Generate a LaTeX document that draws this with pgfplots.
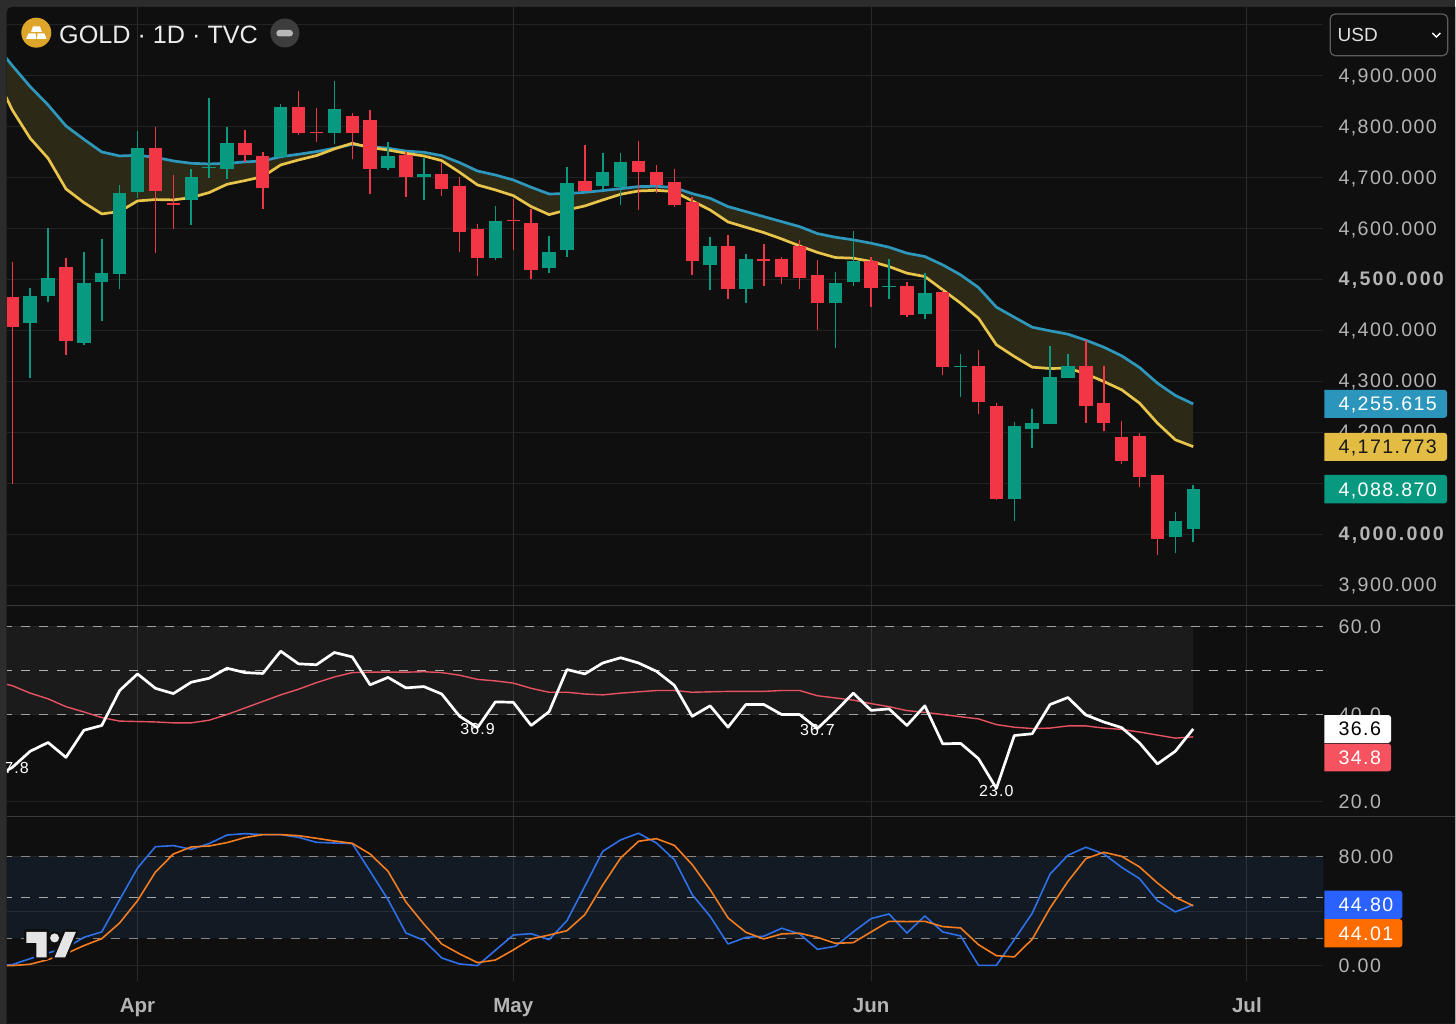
\documentclass[border=0pt]{standalone}
\usepackage{fontspec}
\setmainfont{Liberation Sans}
\newfontfamily\tickff[LetterSpace=7]{Liberation Sans}
\newfontfamily\tickbf[LetterSpace=11.5]{Liberation Sans}
\usepackage{pgfplots}
\usepackage{pgfplotstable}
\pgfplotsset{compat=1.18}
\definecolor{bgc}{HTML}{0F0F0F}
\definecolor{framec}{HTML}{2C2C2C}
\definecolor{gridc}{HTML}{232323}
\definecolor{vgridc}{HTML}{2B2B2B}
\definecolor{sepc}{HTML}{3C3C3C}
\definecolor{tickc}{HTML}{B4B4B4}
\definecolor{upc}{HTML}{089981}
\definecolor{downc}{HTML}{F23645}
\definecolor{ublue}{HTML}{2E97BC}
\definecolor{uyellow}{HTML}{E8C54A}
\definecolor{cloudc}{HTML}{2C2A17}
\definecolor{rsic}{HTML}{E65261}
\definecolor{kc}{HTML}{2F6FE8}
\definecolor{dc}{HTML}{F57C1F}
\definecolor{bandb}{HTML}{3282DC}
\definecolor{tagblue}{HTML}{2B95BB}
\definecolor{taggold}{HTML}{E3BC44}
\definecolor{tagred}{HTML}{F7525F}
\definecolor{tagk}{HTML}{2962FF}
\definecolor{tagd}{HTML}{FF6D00}
\definecolor{goldc}{HTML}{DDA52A}
\newcommand\tickfont{\tickff\fontsize{19.6}{20}\selectfont}
\newcommand\tickfontb{\tickbf\fontsize{19.6}{20}\selectfont\bfseries}
\newcommand\notefont{\tickff\fontsize{16}{17}\selectfont}

\pgfplotstableread{
i high top bot low
1 4483.4 4467.8 4415.4 4305.6
2 4600.5 4503.7 4468.4 4455.3
4 4554.0 4492.6 4376.2 4371.0
5 4580.2 4512.2 4495.9 4418.0
6 4685.5 4669.8 4510.9 4481.5
7 4791.5 4757.5 4671.8 4659.4
10 4716.3 4700.6 4656.8 4606.4
11 4856.2 4721.5 4719.5 4699.3
12 4799.3 4767.3 4716.9 4697.3
15 4845.1 4838.6 4741.1 4740.0
18 4889.6 4835.3 4788.2 4765.3
21 4769.9 4742.4 4718.9 4715.0
23 4737.8 4706.4 4700.5 4656.0
27 4645.0 4615.5 4541.6 4538.3
30 4585.4 4554.0 4522.0 4512.2
31 4721.4 4688.7 4558.0 4544.9
33 4747.6 4711.6 4684.2 4677.6
34 4747.6 4731.3 4682.2 4646.9
39 4582.8 4565.8 4528.5 4479.5
41 4550.0 4540.9 4481.4 4453.3
46 4514.2 4493.9 4454.0 4366.4
47 4595.3 4536.5 4495.9 4488.0
49 4539.7 4486.8 4484.8 4461.9
51 4513.6 4474.3 4432.5 4422.7
53 4352.7 4330.4 4327.8 4268.3
56 4219.3 4211.4 4068.8 4025.0
57 4245.4 4217.3 4206.8 4169.6
58 4368.4 4308.2 4216.7 4216.0
59 4354.0 4330.4 4306.9 4305.6
65 4043.3 4025.7 3993.6 3963.6
66 4095.7 4088.9 4010.0 3983.8
}\upcandles

\pgfplotstableread{
i high top bot low
0 4535.0 4466.0 4406.0 4099.0
3 4543.0 4524.6 4379.5 4351.3
8 4799.3 4757.5 4674.4 4552.8
9 4705.2 4649.6 4647.0 4599.2
13 4793.4 4767.3 4744.4 4730.0
14 4749.6 4742.4 4680.3 4638.4
16 4870.0 4838.6 4788.2 4784.3
17 4836.6 4789.5 4787.6 4769.9
19 4826.1 4820.9 4788.2 4735.9
20 4832.0 4813.0 4716.9 4667.2
22 4750.9 4743.7 4701.9 4662.6
24 4728.0 4707.0 4677.6 4663.9
25 4700.5 4684.2 4593.3 4553.4
26 4609.0 4599.1 4541.6 4507.6
28 4658.0 4617.5 4614.8 4558.0
29 4637.7 4610.9 4518.7 4500.4
32 4764.0 4692.7 4674.4 4673.0
35 4771.8 4733.2 4711.0 4636.4
36 4724.0 4711.6 4684.8 4669.1
37 4716.2 4690.7 4646.9 4643.0
38 4661.3 4652.1 4536.4 4508.9
40 4588.0 4565.8 4481.4 4462.5
42 4569.7 4540.9 4537.0 4487.3
43 4544.2 4540.9 4505.0 4490.6
44 4577.6 4566.4 4503.7 4480.8
45 4538.3 4508.2 4454.0 4401.0
48 4543.7 4536.5 4483.5 4446.9
50 4495.3 4487.4 4430.5 4426.6
52 4479.6 4475.0 4327.2 4311.5
54 4362.5 4330.4 4258.5 4235.6
55 4257.2 4252.0 4068.8 4067.5
60 4381.5 4330.4 4250.7 4218.0
61 4330.4 4257.2 4218.0 4201.6
62 4221.2 4191.2 4142.8 4136.9
63 4198.3 4191.8 4111.4 4091.7
64 4115.3 4115.3 3990.4 3959.6
}\downcandles

\pgfplotstableread{
i upper lower
-1 4963.5 4904.6
0 4919.7 4832.7
1 4878.5 4777.1
2 4842.5 4737.8
3 4801.3 4677.7
4 4775.1 4650.9
5 4750.3 4628.6
6 4742.4 4633.2
7 4743.7 4654.1
8 4739.8 4656.8
9 4732.6 4656.1
10 4728.0 4660.7
11 4726.7 4670.5
12 4728.0 4686.8
13 4730.7 4694.0
14 4732.6 4701.9
15 4741.0 4724.8
16 4745.7 4734.6
17 4751.0 4743.1
18 4757.5 4756.2
19 4765.3 4767.3
20 4760.7 4758.8
21 4757.5 4754.2
22 4752.0 4747.7
23 4749.6 4742.4
24 4743.0 4733.2
25 4729.3 4710.3
26 4712.9 4685.5
27 4705.0 4675.7
28 4695.3 4664.5
29 4680.9 4643.0
30 4667.8 4627.3
31 4668.5 4636.4
32 4671.0 4644.3
33 4674.4 4656.0
34 4678.3 4667.2
35 4682.2 4673.7
36 4682.9 4675.0
37 4680.2 4672.4
38 4668.5 4654.1
39 4659.3 4636.4
40 4643.0 4612.9
41 4633.2 4602.4
42 4623.3 4592.0
43 4613.5 4579.5
44 4603.7 4565.8
45 4590.0 4553.0
46 4582.9 4543.0
47 4577.7 4541.7
48 4571.1 4535.2
49 4563.3 4525.3
50 4551.5 4512.3
51 4545.0 4505.7
52 4528.6 4479.6
53 4509.0 4453.4
54 4484.1 4424.0
55 4445.6 4371.7
56 4425.9 4348.8
57 4406.3 4327.8
58 4399.1 4325.2
59 4392.6 4325.9
60 4380.8 4314.8
61 4367.1 4299.7
62 4350.1 4283.4
63 4327.2 4257.2
64 4296.4 4218.0
65 4272.3 4185.3
66 4255.6 4171.8
}\bands

% the cloud between the two bands: the upper band forward, the lower band back
\pgfplotstableread{
i v
-1 4963.5
0 4919.7
1 4878.5
2 4842.5
3 4801.3
4 4775.1
5 4750.3
6 4742.4
7 4743.7
8 4739.8
9 4732.6
10 4728.0
11 4726.7
12 4728.0
13 4730.7
14 4732.6
15 4741.0
16 4745.7
17 4751.0
18 4757.5
19 4765.3
20 4760.7
21 4757.5
22 4752.0
23 4749.6
24 4743.0
25 4729.3
26 4712.9
27 4705.0
28 4695.3
29 4680.9
30 4667.8
31 4668.5
32 4671.0
33 4674.4
34 4678.3
35 4682.2
36 4682.9
37 4680.2
38 4668.5
39 4659.3
40 4643.0
41 4633.2
42 4623.3
43 4613.5
44 4603.7
45 4590.0
46 4582.9
47 4577.7
48 4571.1
49 4563.3
50 4551.5
51 4545.0
52 4528.6
53 4509.0
54 4484.1
55 4445.6
56 4425.9
57 4406.3
58 4399.1
59 4392.6
60 4380.8
61 4367.1
62 4350.1
63 4327.2
64 4296.4
65 4272.3
66 4255.6
66 4171.8
65 4185.3
64 4218.0
63 4257.2
62 4283.4
61 4299.7
60 4314.8
59 4325.9
58 4325.2
57 4327.8
56 4348.8
55 4371.7
54 4424.0
53 4453.4
52 4479.6
51 4505.7
50 4512.3
49 4525.3
48 4535.2
47 4541.7
46 4543.0
45 4553.0
44 4565.8
43 4579.5
42 4592.0
41 4602.4
40 4612.9
39 4636.4
38 4654.1
37 4672.4
36 4675.0
35 4673.7
34 4667.2
33 4656.0
32 4644.3
31 4636.4
30 4627.3
29 4643.0
28 4664.5
27 4675.7
26 4685.5
25 4710.3
24 4733.2
23 4742.4
22 4747.7
21 4754.2
20 4758.8
19 4767.3
18 4756.2
17 4743.1
16 4734.6
15 4724.8
14 4701.9
13 4694.0
12 4686.8
11 4670.5
10 4660.7
9 4656.1
8 4656.8
7 4654.1
6 4633.2
5 4628.6
4 4650.9
3 4677.7
2 4737.8
1 4777.1
0 4832.7
-1 4904.6
}\cloud

\pgfplotstableread{
i rsi ma
-1 25.5 47.5
0 27.8 46.5
1 31.5 44.8
2 33.5 43.5
3 30.1 41.7
4 36.3 40.5
5 37.4 39.2
6 45.4 38.4
7 49.2 38.3
8 45.9 38.2
9 44.7 38.0
10 47.3 38.0
11 48.2 38.6
12 50.5 39.9
13 49.5 41.4
14 49.3 42.9
15 54.4 44.4
16 51.5 45.7
17 51.3 47.2
18 54.1 48.5
19 53.1 49.5
20 46.7 49.6
21 48.4 49.6
22 46.0 49.6
23 46.3 49.7
24 44.6 49.5
25 39.5 48.9
26 36.9 47.95
27 42.8 47.6
28 42.7 47.1
29 37.4 45.9
30 40.55 45.0
31 50.2 45.0
32 49.2 44.6
33 51.7 44.4
34 52.9 44.8
35 51.7 45.1
36 49.8 45.4
37 46.6 45.4
38 39.5 45.0
39 41.9 45.1
40 37.0 45.2
41 42.2 45.2
42 42.2 45.2
43 39.9 45.4
44 39.9 45.4
45 36.7 44.2
46 40.6 43.7
47 44.8 43.2
48 40.85 42.4
49 41.2 41.7
50 37.4 40.8
51 41.9 40.4
52 33.2 39.9
53 33.3 39.4
54 29.8 38.9
55 23.0 37.6
56 35.1 37.0
57 35.5 36.7
58 42.2 36.8
59 43.8 37.3
60 39.8 37.3
61 38.2 36.8
62 36.9 36.5
63 33.4 35.9
64 28.6 35.2
65 31.5 34.5
66 36.6 34.8
}\rsitable

\pgfplotstableread{
i k d
-1 0.0 0.0
0 0.7 0.0
1 5.1 1.0
2 9.3 4.4
3 13.0 8.8
4 20.8 14.7
5 24.8 19.8
6 48.5 31.4
7 71.8 47.8
8 87.5 68.9
9 88.3 82.1
10 85.6 87.3
11 89.8 88.0
12 96.1 90.5
13 97.1 94.2
14 96.4 96.4
15 96.4 96.4
16 94.4 95.6
17 90.7 93.7
18 90.2 91.7
19 89.8 90.0
20 69.4 82.1
21 48.5 69.4
22 24.0 46.8
23 18.6 30.6
24 5.6 15.9
25 1.2 8.6
26 0.0 2.2
27 11.3 4.1
28 22.5 11.5
29 23.5 19.6
30 19.1 22.5
31 33.1 25.7
32 58.4 37.5
33 84.1 59.3
34 92.5 79.2
35 97.4 91.5
36 90.2 93.4
37 78.0 88.5
38 52.2 74.3
39 36.3 55.9
40 15.9 35.1
41 20.8 24.5
42 21.6 19.6
43 27.5 23.3
44 23.3 23.8
45 12.0 20.8
46 14.2 16.4
47 24.8 16.9
48 34.6 24.8
49 38.0 32.6
50 24.0 32.4
51 36.5 32.6
52 24.8 28.7
53 21.8 27.7
54 0.2 15.4
55 0.2 7.3
56 19.1 6.4
57 38.5 19.4
58 67.4 42.4
59 81.2 62.0
60 87.1 78.7
61 82.2 83.4
62 72.3 80.4
63 64.0 72.6
64 47.8 60.8
65 39.5 50.3
66 44.8 44.0
}\stochtable

\pgfplotsset{
  pane/.style={
    scale only axis, width=1317pt,
    xmin=-0.296, xmax=73.28,
    xtick={7,28,48,69},
    axis line style={draw=none},
    tick style={draw=none},
    major tick length=0pt,
    xmajorgrids=true, ymajorgrids=true,
    x grid style={draw=vgridc, line width=1pt},
    y grid style={draw=gridc, line width=1pt},
    yticklabel pos=right,
    scaled y ticks=false,
    tick label style={font=\tickfont, text=tickc, inner sep=0pt},
    /pgf/number format/assume math mode=true,
    /pgf/number format/fixed,
    /pgf/number format/fixed zerofill,
    /pgf/number format/1000 sep={,},
  },
  candle wick/.style={draw=none, mark=none, forget plot,
    error bars/y dir=plus, error bars/y explicit,
    error bars/error mark=none,
    error bars/error bar style={draw=#1, line width=1.5pt}},
  candle body/.style={draw=none, mark=none, forget plot,
    error bars/y dir=plus, error bars/y explicit,
    error bars/error mark=none,
    error bars/error bar style={draw=#1, line width=13.4pt}},
  dashline/.style={forget plot, draw=#1, line width=1pt, dash pattern=on 9pt off 9pt, dash phase=4pt},
}

\begin{document}
\begin{tikzpicture}
\fill[framec] (0pt,0pt) rectangle (1456pt,-1024pt);
\fill[bgc] (6.7pt,-1024pt) [rounded corners=5pt] -- (6.7pt,-7pt) [sharp corners] -- (1456pt,-7pt) -- (1456pt,-1024pt) -- cycle;

% price pane
\begin{axis}[pane,
  at={(7pt,-7pt)}, anchor=north west,
  height=598.5pt,
  ymin=3860.5, ymax=5034.8,
  ytick={3900,4100,4200,4300,4400,4600,4700,4800,4900,5000},
  extra y ticks={4000,4500},
  extra y tick style={tick label style={font=\tickfontb}},
  /pgf/number format/precision=3,
  xticklabels={},
  yticklabel style={anchor=base west, xshift=15pt, yshift=-6.5pt},
]
\addplot[fill=cloudc, draw=none, forget plot] table[x=i, y=v] {\cloud} -- cycle;
\addplot[ublue, line width=2.7pt, line join=round] table[x=i, y=upper] {\bands};
\addplot[uyellow, line width=2.7pt, line join=round] table[x=i, y=lower] {\bands};
\addplot[candle wick=upc] table[x=i, y=low, y error plus expr=\thisrow{high}-\thisrow{low}] {\upcandles};
\addplot[candle wick=downc] table[x=i, y=low, y error plus expr=\thisrow{high}-\thisrow{low}] {\downcandles};
\addplot[candle body=upc] table[x=i, y=bot, y error plus expr=\thisrow{top}-\thisrow{bot}] {\upcandles};
\addplot[candle body=downc] table[x=i, y=bot, y error plus expr=\thisrow{top}-\thisrow{bot}] {\downcandles};
\end{axis}

% RSI pane
\begin{axis}[pane,
  at={(7pt,-606pt)}, anchor=north west,
  height=210.5pt,
  ymin=16.64, ymax=64.8,
  ytick={20,40,60},
  /pgf/number format/precision=1,
  xticklabels={},
  yticklabel style={anchor=base west, xshift=15pt, yshift=-7pt},
]
\addplot[fill=white, fill opacity=0.05, draw=none, forget plot] coordinates {(-0.296,40)(66,40)(66,60)(-0.296,60)} \closedcycle;
\addplot[dashline=gray!75] coordinates {(-0.296,60)(73.28,60)};
\addplot[dashline=gray!60] coordinates {(-0.296,50)(73.28,50)};
\addplot[dashline=gray!75] coordinates {(-0.296,40)(73.28,40)};
\addplot[rsic, line width=1.4pt, line join=round] table[x=i, y=ma] {\rsitable};
\addplot[white, line width=2.7pt, line join=round] table[x=i, y=rsi] {\rsitable};
\node[text=white, font=\notefont, inner sep=0pt] at (axis cs:-0.04,27.7) {27.8};
\node[text=white, font=\notefont, inner sep=0pt] at (axis cs:26,36.7) {36.9};
\node[text=white, font=\notefont, inner sep=0pt] at (axis cs:45,36.3) {36.7};
\node[text=white, font=\notefont, inner sep=0pt] at (axis cs:55,22.5) {23.0};
\end{axis}

% stochastic pane
\begin{axis}[pane,
  at={(7pt,-817pt)}, anchor=north west,
  height=164pt,
  ymin=-11.04, ymax=109.6,
  ytick={0,40,80},
  /pgf/number format/precision=2,
  xticklabels={Apr,May,Jun,Jul},
  yticklabel style={anchor=base west, xshift=15pt, yshift=-7pt},
  xticklabel style={anchor=base, yshift=-32pt, font=\fontsize{20.5}{21}\selectfont\bfseries, text=tickc},
]
\addplot[fill=bandb, fill opacity=0.1, draw=none, forget plot] coordinates {(-0.296,20)(73.28,20)(73.28,80)(-0.296,80)} \closedcycle;
\addplot[dashline=gray!95] coordinates {(-0.296,80)(73.28,80)};
\addplot[dashline=gray!70] coordinates {(-0.296,50)(73.28,50)};
\addplot[dashline=gray!95] coordinates {(-0.296,20)(73.28,20)};
\addplot[kc, line width=1.6pt, line join=round] table[x=i, y=k] {\stochtable};
\addplot[dc, line width=1.6pt, line join=round] table[x=i, y=d] {\stochtable};
\end{axis}

\begin{scope}[x=1pt,y=-1pt]
% pane separators
\draw[sepc, line width=1.2pt] (7,605.5) -- (1456,605.5);
\draw[sepc, line width=1.2pt] (7,816.5) -- (1456,816.5);

% value tags
\newcommand\vtag[7]{%
  \fill[#5] (#1,#2) [rounded corners=3pt] -- (#3,#2) -- (#3,#4) [sharp corners] -- (#1,#4) -- cycle;
  \node[anchor=base west, inner sep=0pt, text=#6, font=\tickfont] at (1339,#4-7.2) {#7};}
\vtag{1325}{390}{1447.7}{418}{tagblue}{white}{4,255.615}
\vtag{1325}{433}{1447.7}{461}{taggold}{black!90}{4,171.773}
\vtag{1325}{475}{1447.7}{503.7}{upc}{white}{4,088.870}
\vtag{1325}{715.3}{1391.7}{743.3}{white}{black}{36.6}
\vtag{1325}{744}{1391.7}{771.7}{tagred}{white}{34.8}
\vtag{1325}{891}{1403}{919.3}{tagk}{white}{44.80}
\vtag{1325}{919.5}{1403}{947.7}{tagd}{white}{44.01}

% header
\fill[goldc] (36.3,32.7) circle (15);
\fill[white] (33,26.5) -- (40,26.5) -- (42,32) -- (31,32) -- cycle;
\fill[white] (28.5,33.5) -- (35.5,33.5) -- (36.5,39) -- (26,39) -- cycle;
\fill[white] (37.5,33.5) -- (44.5,33.5) -- (46.5,39) -- (37,39) -- cycle;
\node[anchor=base west, inner sep=0pt, text=white!92!black, font=\fontsize{25.2}{26}\selectfont] at (59,43.2) {GOLD · 1D · TVC};
\fill[white!24!black] (285,33) circle (14.5);
\fill[white!72!black, rounded corners=3pt] (276.5,30) rectangle (293,36.5);

% currency selector
\fill[bgc, rounded corners=5pt] (1330.7,14) rectangle (1448.3,55.7);
\draw[white!36!black, line width=1.2pt, rounded corners=5pt] (1330.7,14) rectangle (1448.3,55.7);
\node[anchor=base west, inner sep=0pt, text=white!88!black, font=\fontsize{19}{20}\selectfont] at (1338,41.7) {USD};
\draw[white, line width=1.4pt] (1433,33) -- (1437,37) -- (1441,33);

% TradingView mark
\path[draw=bgc, line width=5pt, line join=round, fill=bgc]
  (26.5,932.3) -- (46.7,932.3) -- (46.7,957.7) -- (36.4,957.7) -- (36.4,943.3) -- (26.5,943.3) -- cycle;
\path[draw=bgc, line width=5pt, line join=round, fill=bgc]
  (65.2,932.3) -- (75.9,932.3) -- (65.2,957.7) -- (54.6,957.7) -- cycle;
\path[draw=bgc, line width=5pt, fill=bgc] (54.6,938.3) circle (4.5);
\fill[white!90!black] (26.5,932.3) -- (46.7,932.3) -- (46.7,957.7) -- (36.4,957.7) -- (36.4,943.3) -- (26.5,943.3) -- cycle;
\fill[white!90!black] (54.6,938.3) circle (4.5);
\fill[white!90!black] (65.2,932.3) -- (75.9,932.3) -- (65.2,957.7) -- (54.6,957.7) -- cycle;
\end{scope}
\end{tikzpicture}
\end{document}
